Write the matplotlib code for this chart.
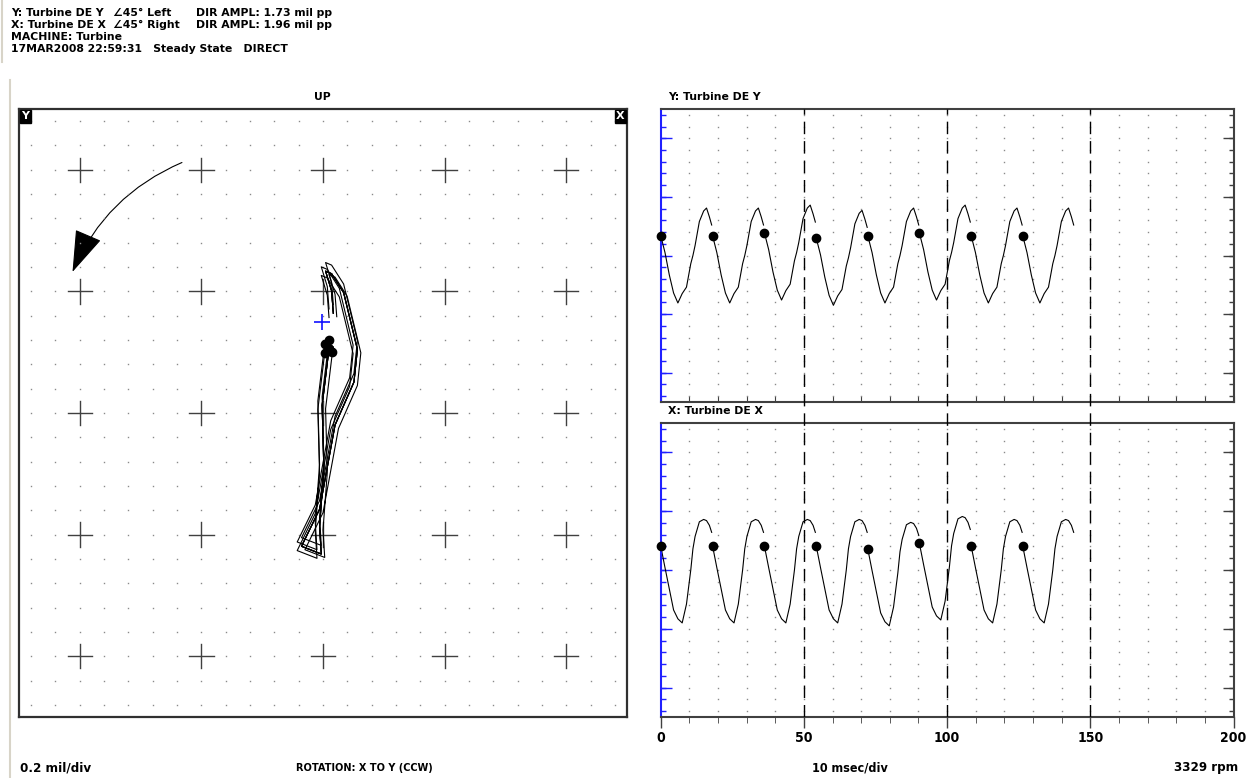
import numpy as np
import matplotlib
matplotlib.use('Agg')
import matplotlib.pyplot as plt
from matplotlib import font_manager
from matplotlib.patches import FancyArrowPatch
from matplotlib.lines import Line2D

# one shaft revolution after each keyphasor: time in ms, amplitude in mil
phase_ms = [0.0, 1.5, 3.0, 4.5, 6.0, 7.5, 9.0, 10.5, 11.25, 12.0, 13.5, 15.0, 16.0, 17.0, 17.8]
y_wave = [0.34, 0.05, -0.33, -0.64, -0.81, -0.65, -0.54, -0.14, 0.00, 0.17, 0.58, 0.76, 0.81, 0.66, 0.52]
x_wave = [0.41, 0.04, -0.32, -0.68, -0.83, -0.90, -0.58, 0.00, 0.36, 0.57, 0.82, 0.86, 0.84, 0.76, 0.64]

# keyphasor times and the small level drift of each revolution
kp_ms = [0.0, 18.1, 36.2, 54.3, 72.3, 90.3, 108.4, 126.4]
y_drift = [0.0, 0.0, 0.05, -0.04, 0.0, 0.05, 0.0, 0.0]
x_drift = [0.0, 0.0, 0.0, 0.0, -0.05, 0.05, 0.0, 0.0]

probe_angle = 45.0          # Y probe 45 deg left, X probe 45 deg right
start_mark = (-0.01, 0.75)  # blue cursor on the orbit
arrow_from = (-1.16, 2.06)
arrow_to = (-2.06, 1.16)

header = [('Y: Turbine DE Y', '\u222045\u00b0 Left', 'DIR AMPL: 1.73 mil pp'),
          ('X: Turbine DE X', '\u222045\u00b0 Right', 'DIR AMPL: 1.96 mil pp')]
time_ticks = [0, 50, 100, 150, 200]

W, H = 1249, 778
fonts = font_manager.fontManager.ttflist
has_narrow = any(f.name == 'Liberation Sans Narrow' for f in fonts)
has_cond = any(f.name == 'DejaVu Sans' and f.stretch == 'condensed' for f in fonts)
if has_narrow:
    foot = dict(family='Liberation Sans Narrow')
elif has_cond:
    foot = dict(family='DejaVu Sans', fontstretch='condensed')
else:
    foot = dict(family='Liberation Sans')

fig = plt.figure(figsize=(W / 100, H / 100), dpi=100)
fig.patch.set_facecolor('white')


def frac(l, t, r, b):
    return [l / W, 1 - b / H, (r - l) / W, (b - t) / H]


def ftext(x, y, s, **kw):
    kw.setdefault('va', 'center')
    kw.setdefault('fontweight', 'bold')
    fig.text(x / W, 1 - y / H, s, **kw)


# window borders on the far left
fig.add_artist(Line2D([1.5 / W, 1.5 / W], [1, 1 - 62 / H], color='#d8d4c8', lw=1.5))
fig.add_artist(Line2D([10 / W, 10 / W], [1 - 80 / H, 0], color='#d8d4c8', lw=1.5))

# header
hd = dict(family='DejaVu Sans', fontsize=7.8)
for (a, b, c), y in zip(header, [13, 25]):
    ftext(11, y, a, **hd)
    ftext(113, y, b, **hd)
    ftext(196, y, c, **hd)
ftext(11, 37, 'MACHINE: Turbine', **hd)
ftext(11, 49, '17MAR2008 22:59:31   Steady State   DIRECT', **hd)

# ---------------- orbit ----------------
ax = fig.add_axes(frac(19, 109, 627, 717))
ax.set_xlim(-2.5, 2.5)
ax.set_ylim(-2.5, 2.5)
ax.set_xticks([])
ax.set_yticks([])
for s in ax.spines.values():
    s.set_color('#303030')
    s.set_linewidth(1.6)

g = np.arange(-12, 13) * 0.2
gx, gy = np.meshgrid(g, g)
ax.plot(gx.ravel(), gy.ravel(), ls='none', marker='s', ms=1.0, mew=0, color='#8a8a8a')
for c in [-2, -1, 0, 1, 2]:
    for d in [-2, -1, 0, 1, 2]:
        ax.plot([c - 0.1, c + 0.1], [d, d], color='#404040', lw=1)
        ax.plot([c, c], [d - 0.1, d + 0.1], color='#404040', lw=1)

a = np.deg2rad(probe_angle)
for k in range(len(kp_ms)):
    xv = np.array(x_wave) + x_drift[k]
    yv = np.array(y_wave) + y_drift[k]
    h = (xv - yv) * np.sin(a)
    v = (xv + yv) * np.cos(a)
    ax.plot(h, v, color='black', lw=0.8)
    ax.plot(h[0], v[0], 'o', color='black', ms=6)
ax.plot(*start_mark, marker='+', color='#1010ff', ms=12, mew=1.2)

ax.add_patch(FancyArrowPatch(arrow_from, arrow_to, connectionstyle='arc3,rad=0.2',
                             arrowstyle='-|>,head_length=27,head_width=9',
                             mutation_scale=1, color='black', lw=0.8,
                             shrinkA=0, shrinkB=0))

for lab, xa, ha in [('Y', 0.004, 'left'), ('X', 0.996, 'right')]:
    ax.text(xa, 0.996, lab, transform=ax.transAxes,
            ha=ha, va='top', color='white', fontsize=8, fontweight='bold',
            bbox=dict(boxstyle='square,pad=0.12', fc='black', ec='black'))
ftext(322, 97, 'UP', ha='center', **hd)

# ---------------- waveforms ----------------
L, R = 660.7, 1233.5
aw = R - L
panels = [(109, 402, y_wave, y_drift, 'Y: Turbine DE Y'),
          (423, 717, x_wave, x_drift, 'X: Turbine DE X')]
minor = np.arange(-12, 13) * 0.2
major = [-2, -1, 0, 1, 2]
cols = np.arange(10, 200, 10)

axes = []
for top, bot, wave, drift, title in panels:
    w = fig.add_axes(frac(L, top, R, bot))
    axes.append(w)
    w.set_xlim(0, 200)
    w.set_ylim(-2.5, 2.5)
    w.set_yticks([])
    for s in w.spines.values():
        s.set_color('#404040')
        s.set_linewidth(1.5)
    w.spines['left'].set_color('#2020ff')
    cx, cy = np.meshgrid(cols, minor)
    w.plot(cx.ravel(), cy.ravel(), ls='none', marker='s', ms=1.0, mew=0, color='#8a8a8a')
    yt = w.get_yaxis_transform()
    w.hlines(minor, 0, 5 / aw, transform=yt, color='#2020ff', lw=1)
    w.hlines(major, 0, 11 / aw, transform=yt, color='#2020ff', lw=1)
    w.hlines(minor, 1 - 5 / aw, 1, transform=yt, color='#404040', lw=1)
    w.hlines(major, 1 - 11 / aw, 1, transform=yt, color='#404040', lw=1)
    for k, t0 in enumerate(kp_ms):
        t = t0 + np.array(phase_ms)
        v = np.array(wave) + drift[k]
        w.plot(t, v, color='black', lw=0.8)
        w.plot(t0, v[0], 'o', color='black', ms=6, clip_on=False, zorder=5)
    ftext(668, top - 12, title, **hd)

top_ax, bot_ax = axes
top_ax.set_xticks(np.arange(0, 201, 10))
top_ax.tick_params(axis='x', direction='in', length=4, color='#404040', labelbottom=False)
bot_ax.set_xticks(time_ticks)
bot_ax.set_xticks(np.arange(0, 201, 10), minor=True)
bot_ax.tick_params(axis='x', which='major', direction='out', length=8, width=1,
                   color='#404040', pad=2)
bot_ax.tick_params(axis='x', which='minor', direction='out', length=4, color='#404040')
for lab in bot_ax.get_xticklabels():
    lab.set(fontweight='bold', fontsize=10, **foot)

# dashed markers through both panels
ov = fig.add_axes(frac(L, 109, R, 717))
ov.set_xlim(0, 200)
ov.axis('off')
for t in [50, 100, 150]:
    ov.axvline(t, color='black', lw=1, dashes=(9, 5))

# footer
ftext(20, 768, '0.2 mil/div', fontsize=9.5, **foot)
ftext(364, 768, 'ROTATION: X TO Y (CCW)', ha='center', fontsize=7.8, **foot)
ftext(850, 768, '10 msec/div', ha='center', fontsize=9, **foot)
ftext(1238, 768, '3329 rpm', ha='right', fontsize=9.5, **foot)

fig.savefig('out.png', dpi=100)
